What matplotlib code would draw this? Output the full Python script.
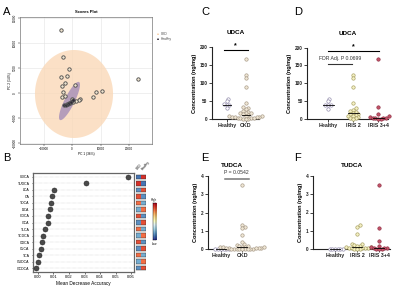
import numpy as np
import matplotlib
matplotlib.use("Agg")
import matplotlib.pyplot as plt
from matplotlib.patches import Rectangle

plt.rcParams['font.family'] = ['Liberation Sans', 'DejaVu Sans']

W, H = 400, 287

# ---------------- data ----------------
# Panel A: PCA scores
pca_ckd_x = [-3965, -3158, -1053, -3754, -1649, -2456, -3614, 947, -3053, -3509, -2456,
             8421, 10421, 7474, 23053, 105, 2912, 2351, 1404, 456, -702, -1860]
pca_ckd_y = [12600, 7260, 4800, 3140, 3400, 2060, 1460, 1660, 260, -740, -540,
             260, 340, -740, 2800, -1200, -1200, -1400, -1600, -1800, -1940, -2200]
pca_healthy_x = [-2807, -2211, -1509, -947, -246, 456]
pca_healthy_y = [-2460, -2340, -2200, -2060, -1800, -1400]
ell_ckd_center = (700, -200)
ell_ckd_axes = ((13700, 0), (0, 8800))
ell_healthy_center = (-880, -1600)
ell_healthy_axes = ((3330, 3800), (1570, -450))
pca_xticks = [-10000, 0, 10000, 20000]
pca_yticks = [-10000, -5000, 0, 5000, 10000, 15000]

# Panel B: random forest importance
features = ['UDCA', 'TUDCA', 'LCA', 'CA', 'TDCA', 'DCA', 'CDCA', 'GCA', 'TLCA',
            'TCDCA', 'GDCA', 'GLCA', 'TCA', 'GUDCA', 'GCDCA']
mda = [0.058, 0.031, 0.0105, 0.0088, 0.0082, 0.0077, 0.0066, 0.0062, 0.0045,
       0.0032, 0.0024, 0.0019, 0.0006, 0.0002, -0.0015]
heat_ckd = [-0.8, 0.8, -0.7, 0.7, 0.6, -0.6, 0.7, -0.7, 0.6, -0.6, 0.7, -0.7, 0.6, -0.6, -0.7]
heat_healthy = [0.8, -0.8, 0.7, -0.7, -0.6, 0.6, -0.7, 0.7, -0.6, 0.6, -0.7, 0.7, -0.6, 0.6, 0.7]

# Panels C-F: concentrations (ng/mg)
udca_healthy = [57, 50, 41, 40, 39, 30]
udca_iris2 = [123, 114, 90, 45, 32, 27, 22, 20, 18, 16, 14, 12, 10, 8, 6, 5, 3, 2]
udca_iris34 = [167, 33, 16, 8, 6, 5, 4, 4, 3, 2, 1]
tudca_healthy = [0.02, 0.01, 0.0, 0.0, 0.01, 0.0]
tudca_iris2 = [1.3, 1.2, 0.8, 0.28, 0.25, 0.2, 0.18, 0.15, 0.12, 0.1, 0.08, 0.06,
               0.05, 0.04, 0.03, 0.02, 0.01, 0.0]
tudca_iris34 = [3.5, 1.15, 0.42, 0.15, 0.1, 0.08, 0.05, 0.04, 0.02, 0.01, 0.0]

# ---------------- helpers ----------------
fig = plt.figure(figsize=(4, 2.87), dpi=100)


def px_axes(x0, y0, x1, y1):
    return fig.add_axes([x0 / W, 1 - y1 / H, (x1 - x0) / W, (y1 - y0) / H])


def swarm_x(ax, xc, vals, diam_px, overlap=0.78):
    tr = ax.transData
    pts = tr.transform([(xc, v) for v in vals])
    ypx = pts[:, 1]
    xc_px = pts[0, 0]
    order = np.argsort(ypx)
    placed = []
    offs = np.zeros(len(vals))
    step = diam_px * 0.4
    lim = (diam_px * overlap) ** 2
    for i in order:
        k = 0
        while True:
            cands = [0.0] if k == 0 else [k * step, -k * step]
            ok = None
            for c in cands:
                if all((c - ox) ** 2 + (ypx[i] - oy) ** 2 >= lim for ox, oy in placed):
                    ok = c
                    break
            if ok is not None:
                offs[i] = ok
                placed.append((ok, ypx[i]))
                break
            k += 1
    inv = tr.inverted()
    xs = inv.transform(np.column_stack([xc_px + offs, ypx]))[:, 0]
    return xs


def style_ax(ax):
    for s in ['top', 'right']:
        ax.spines[s].set_visible(False)
    for s in ['left', 'bottom']:
        ax.spines[s].set_linewidth(0.8)
        ax.spines[s].set_color('#222222')
    ax.tick_params(axis='both', length=2, width=0.6, pad=1, labelsize=3.4, colors='#222222')
    for lab in ax.get_yticklabels():
        lab.set_fontweight('bold')
    for lab in ax.get_xticklabels():
        lab.set_fontweight('bold')
        lab.set_fontsize(3.8)


def dot_group(ax, xc, vals, fc, ec, diam=3.4, half=0.22):
    xs = swarm_x(ax, xc, vals, diam)
    ax.scatter(xs, vals, s=(diam * 0.72) ** 2, facecolor=fc, edgecolor=ec, linewidths=0.45,
               clip_on=False, zorder=3)
    med = np.median(vals)
    ax.plot([xc - half, xc + half], [med, med], color='black', lw=0.6, zorder=4, clip_on=False)


HEALTHY = ('white', '#8c84a6')
IRIS2 = ('#f4f0c4', '#a49c5c')
IRIS34 = ('#c4546a', '#8c2c40')
CKD = ('#efe6d4', '#a49684')

# ---------------- Panel A ----------------
axA = px_axes(20, 17, 152, 144)
axA.set_xlim(-18250, 28070)
axA.set_ylim(-10200, 15200)
t = np.linspace(0, 2 * np.pi, 200)
for cen, (a1, a2), col, al in [(ell_ckd_center, ell_ckd_axes, '#fad9b8', 0.8),
                               (ell_healthy_center, ell_healthy_axes, '#a48cb8', 0.8)]:
    ex = cen[0] + np.cos(t) * a1[0] + np.sin(t) * a2[0]
    ey = cen[1] + np.cos(t) * a1[1] + np.sin(t) * a2[1]
    axA.fill(ex, ey, color=col, alpha=al, lw=0, zorder=1)
axA.scatter(pca_ckd_x, pca_ckd_y, s=6, facecolor='#efe4cf', edgecolor='#4a4a4a', linewidths=0.6, zorder=3)
axA.scatter(pca_healthy_x, pca_healthy_y, s=6, facecolor='#2e2a38', edgecolor='#5a5a5a', linewidths=0.6, zorder=4)
axA.set_xticks(pca_xticks)
axA.set_yticks(pca_yticks)
axA.grid(True, color='#e4e4e4', lw=0.4)
axA.set_axisbelow(True)
axA.tick_params(labelsize=2.2, length=1.2, width=0.3, pad=1)
for lab in axA.get_yticklabels():
    lab.set_rotation(90)
    lab.set_va('center')
for s in axA.spines.values():
    s.set_linewidth(0.4)
    s.set_color('#555555')
axA.set_xlabel('PC 1 (36%)', fontsize=2.3, labelpad=1)
axA.set_ylabel('PC 2 (14%)', fontsize=2.3, labelpad=1)
axA.set_title('Scores Plot', fontsize=3, fontweight='bold', pad=3)
fig.text(157 / W, 1 - 34 / H, '\u25a0', color='#f8d0a8', fontsize=2.5, va='center')
fig.text(161 / W, 1 - 34 / H, 'CKD', fontsize=2.3, va='center', color='#444444')
fig.text(157 / W, 1 - 39 / H, '\u25a0', color='#2e2a38', fontsize=2.5, va='center')
fig.text(161 / W, 1 - 39 / H, 'Healthy', fontsize=2.3, va='center', color='#444444')

# ---------------- Panel B ----------------
axB = px_axes(33, 173, 134, 272)
n = len(features)
ypos = np.arange(n)
axB.set_ylim(n - 0.4, -0.6)
axB.set_xlim(-0.0032, 0.0619)
for y in ypos:
    axB.axhline(y, color='#bbbbbb', lw=0.35, ls=(0, (1, 1.5)), zorder=1)
axB.scatter(mda, ypos, s=13, color='#4a4a4a', edgecolor='#2a2a2a', linewidths=0.4, zorder=3)
axB.set_yticks(ypos)
axB.set_yticklabels(features)
axB.set_xticks([0, 0.01, 0.02, 0.03, 0.04, 0.05, 0.06])
axB.set_xticklabels(['0.00', '0.01', '0.02', '0.03', '0.04', '0.05', '0.06'])
axB.tick_params(axis='y', labelsize=2.5, length=1, width=0.4, pad=1.5)
axB.tick_params(axis='x', labelsize=2.9, length=1.2, width=0.4, pad=1)
for s in axB.spines.values():
    s.set_linewidth(0.9)
    s.set_color('#666666')
axB.set_xlabel('Mean Decrease Accuracy', fontsize=3.4, labelpad=1.5)

cmap = plt.get_cmap('RdYlBu_r')
axH = px_axes(136, 173, 146, 272)
axH.set_xlim(0, 2)
axH.set_ylim(n - 0.4, -0.6)
axH.axis('off')
for i in range(n):
    for j, v in enumerate([heat_ckd[i], heat_healthy[i]]):
        axH.add_patch(Rectangle((j, i - 0.36), 1, 0.72, facecolor=cmap((v + 1) / 2),
                                edgecolor='none'))
    axH.add_patch(Rectangle((0, i - 0.36), 2, 0.72, facecolor='none', edgecolor='#333333', lw=0.35))
axH.text(0.5, -0.9, 'CKD', rotation=50, fontsize=2.3, ha='left', va='bottom', rotation_mode='anchor')
axH.text(1.5, -0.9, 'Healthy', rotation=50, fontsize=2.3, ha='left', va='bottom', rotation_mode='anchor')

axCb = px_axes(152.5, 203, 156, 240)
grad = np.linspace(1, -1, 100).reshape(-1, 1)
axCb.imshow(grad, aspect='auto', cmap=cmap, vmin=-1, vmax=1)
axCb.set_xticks([])
axCb.set_yticks([])
for s in axCb.spines.values():
    s.set_linewidth(0.3)
fig.text(154.3 / W, 1 - 200 / H, 'High', fontsize=2.2, ha='center', va='center')
fig.text(154.3 / W, 1 - 244 / H, 'Low', fontsize=2.2, ha='center', va='center')

# ---------------- Panel C ----------------
axC = px_axes(211.7, 46.7, 259, 119.3)
axC.set_xlim(-0.79, 1.70)
axC.set_ylim(0, 200)
axC.set_yticks([0, 50, 100, 150, 200])
axC.set_xticks([0, 1])
axC.set_xticklabels(['Healthy', 'CKD'])
style_ax(axC)
dot_group(axC, 0, udca_healthy, *HEALTHY)
dot_group(axC, 1, udca_iris2 + udca_iris34, *CKD)
axC.plot([-0.15, 1.1], [191, 191], color='black', lw=0.8, clip_on=False)
axC.text(0.47, 192, '*', fontsize=5, fontweight='bold', ha='center', va='bottom')
axC.text(0.5, 1.2, 'UDCA', transform=axC.transAxes, fontsize=4.6, fontweight='bold', ha='center', va='center')
axC.set_ylabel('Concentration (ng/mg)', fontsize=4, fontweight='bold', labelpad=2)

# ---------------- Panel D ----------------
axD = px_axes(307, 47.5, 388, 119.3)
axD.set_xlim(-0.84, 2.40)
axD.set_ylim(0, 200)
axD.set_yticks([0, 50, 100, 150, 200])
axD.set_xticks([0, 1, 2])
axD.set_xticklabels(['Healthy', 'IRIS 2', 'IRIS 3+4'])
style_ax(axD)
dot_group(axD, 0, udca_healthy, *HEALTHY)
dot_group(axD, 1, udca_iris2, *IRIS2)
dot_group(axD, 2, udca_iris34, *IRIS34)
axD.plot([0, 2.05], [190, 190], color='black', lw=0.8, clip_on=False)
axD.text(1.0, 191, '*', fontsize=5, fontweight='bold', ha='center', va='bottom')
axD.plot([0, 0.95], [153, 153], color='#333333', lw=0.8, clip_on=False)
axD.text(0.48, 169, 'FDR Adj. P 0.0699', fontsize=3.7, ha='center', va='center', color='#333333')
axD.text(0.5, 1.2, 'UDCA', transform=axD.transAxes, fontsize=4.6, fontweight='bold', ha='center', va='center')
axD.set_ylabel('Concentration (ng/mg)', fontsize=4, fontweight='bold', labelpad=2)

# ---------------- Panel E ----------------
axE = px_axes(208, 176, 255, 249.3)
axE.set_xlim(-0.6, 1.6)
axE.set_ylim(0, 4)
axE.set_yticks([0, 1, 2, 3, 4])
axE.set_xticks([0, 1])
axE.set_xticklabels(['Healthy', 'CKD'])
style_ax(axE)
dot_group(axE, 0, tudca_healthy, *HEALTHY)
dot_group(axE, 1, tudca_iris2 + tudca_iris34, *CKD)
axE.plot([0.2, 1.3], [3.84, 3.84], color='#777777', lw=1.1, clip_on=False)
axE.text(0.75, 4.2, 'P = 0.0542', fontsize=3.7, ha='center', va='center', color='#333333')
axE.text(0.5, 1.15, 'TUDCA', transform=axE.transAxes, fontsize=4.6, fontweight='bold', ha='center', va='center')
axE.set_ylabel('Concentration (ng/mg)', fontsize=4, fontweight='bold', labelpad=2)

# ---------------- Panel F ----------------
axF = px_axes(313, 176, 390, 249)
axF.set_xlim(-1.0, 2.5)
axF.set_ylim(0, 4)
axF.set_yticks([0, 1, 2, 3, 4])
axF.set_xticks([0, 1, 2])
axF.set_xticklabels(['Healthy', 'IRIS 2', 'IRIS 3+4'])
style_ax(axF)
dot_group(axF, 0, tudca_healthy, *HEALTHY)
dot_group(axF, 1, tudca_iris2, *IRIS2)
dot_group(axF, 2, tudca_iris34, *IRIS34)
axF.text(0.5, 1.15, 'TUDCA', transform=axF.transAxes, fontsize=4.6, fontweight='bold', ha='center', va='center')
axF.set_ylabel('Concentration (ng/mg)', fontsize=4, fontweight='bold', labelpad=2)

# ---------------- panel letters ----------------
for lab, x, y in [('A', 3, 12), ('B', 3, 158), ('C', 201, 12), ('D', 294, 12), ('E', 201, 158), ('F', 294, 158)]:
    fig.text(x / W, 1 - y / H, lab, fontsize=8, ha='left', va='center')

fig.savefig('out.png', dpi=100)
